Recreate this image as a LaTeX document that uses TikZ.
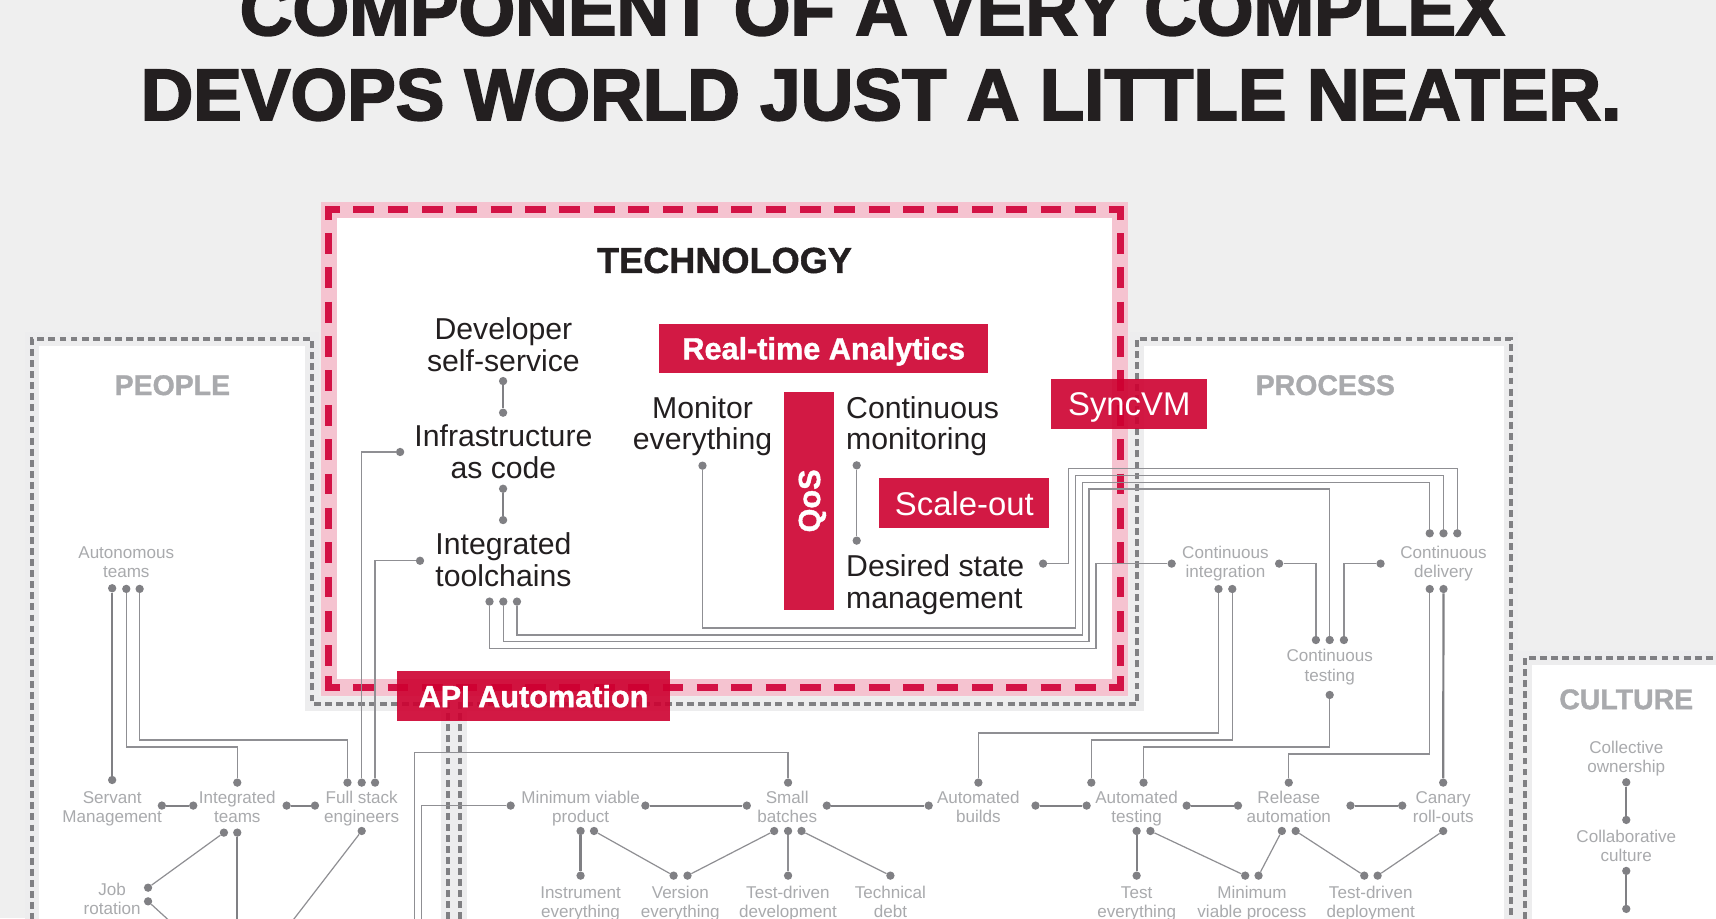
\documentclass[tikz,border=0pt]{standalone}
\usepackage{fontspec}
\setmainfont{Liberation Sans}
\newfontfamily\ttlfont[FakeBold=2.6]{Liberation Sans}
\newfontfamily\hvfont[FakeBold=1.2]{Liberation Sans}
\definecolor{bgc}{HTML}{EFEFEF}
\definecolor{halo}{HTML}{EDEDEE}
\definecolor{dashc}{HTML}{808083}
\definecolor{redc}{HTML}{D31245}
\definecolor{redover}{HTML}{CE0030}
\definecolor{pinkc}{HTML}{F5C3D0}
\definecolor{inkc}{HTML}{231F20}
\definecolor{greytxt}{HTML}{A9AAAD}
\definecolor{dotc}{HTML}{808084}
\definecolor{linec}{HTML}{8F8F93}
\tikzset{
 x=1pt,y=-1pt,
 dot/.style={circle,fill=dotc,inner sep=0pt,minimum size=7.6pt},
 lnk/.style={draw=linec,line width=1.1pt},
 thk/.style={draw=dotc,line width=2pt},
 smalltxt/.style={text=greytxt,align=center,inner sep=0pt,yshift=-1.65pt,execute at end node={\vphantom{g}},font=\fontsize{15.6}{17.6}\selectfont},
 bigtxt/.style={text=inkc,align=center,inner sep=0pt,yshift=-2.9pt,execute at end node={\vphantom{g}},font=\fontsize{27.6}{29}\selectfont},
 bigleft/.style={text=inkc,align=left,anchor=west,inner sep=0pt,yshift=-2.9pt,execute at end node={\vphantom{g}},font=\fontsize{27.6}{29}\selectfont},
 hdr/.style={text=greytxt,inner sep=0pt,font=\fontsize{26}{26}\hvfont\bfseries},
 ttl/.style={text=inkc,inner sep=0pt,anchor=base,font=\fontsize{66.6}{67}\ttlfont\bfseries},
 redbox/.style={fill=redover,fill opacity=.9,inner sep=0pt,anchor=north west},
 boxbold/.style={text=white,inner sep=0pt,text depth=0pt,font=\fontsize{28}{28}\hvfont\bfseries},
 boxreg/.style={text=white,inner sep=0pt,text depth=0pt,font=\fontsize{30}{30}\selectfont},
 haloline/.style={draw=halo,line width=12.5pt,line join=miter},
 dashline/.style={draw=dashc,line width=3.8pt,dash pattern=on 6.3pt off 3.8pt},
 redline/.style={draw=redc,line width=6pt,dash pattern=on 19pt off 12.4pt},
 redcorner/.style={draw=redc,line width=6pt,line join=miter},
}
\begin{document}
\begin{tikzpicture}
\useasboundingbox (0,0) rectangle (1568,839);
\clip (0,0) rectangle (1568,839);
\fill[bgc] (0,0) rectangle (1568,839);
% title
\node[ttl] (t1) at (797,32) {COMPONENT OF A VERY COMPLEX};
\node[ttl] (t2) at (805,109.6) {DEVOPS WORLD JUST A LITTLE NEATER.};
% regions
\fill[white] (1393.5,601) rectangle (1580,850);
\fill[white] (29.4,310) -- (285.3,310) -- (285.3,643.3) -- (409.5,643.3) -- (409.5,850) -- (29.4,850) -- cycle;
\fill[white] (420.4,850) -- (420.4,643.3) -- (1038.7,643.3) -- (1038.7,310) -- (1380.6,310) -- (1380.6,850) -- cycle;
\path[haloline] (1393.5,850) -- (1393.5,601) -- (1580,601);
\path[haloline] (409.5,850) -- (409.5,643.3) -- (285.3,643.3) -- (285.3,310) -- (29.4,310) -- (29.4,850);
\path[haloline] (420.4,850) -- (420.4,643.3) -- (1038.7,643.3) -- (1038.7,310) -- (1380.6,310) -- (1380.6,850);
\draw[dashline] (1393.5,850) -- (1393.5,601) -- (1580,601);
\draw[dashline] (409.5,850) -- (409.5,643.3) -- (285.3,643.3) -- (285.3,310) -- (29.4,310) -- (29.4,850);
\draw[dashline] (420.4,850) -- (420.4,643.3) -- (1038.7,643.3) -- (1038.7,310) -- (1380.6,310) -- (1380.6,850);
% technology panel
\fill[pinkc] (293.2,184.3) rectangle (1031,636);
\fill[white] (307.9,198.9) rectangle (1016.5,620.8);
\draw[redline,dash phase=9pt] (300.4,191.5) -- (1023.7,191.5);
\draw[redline,dash phase=9pt] (300.4,628.4) -- (1023.7,628.4);
\draw[redline,dash phase=10pt] (300.4,191.5) -- (300.4,628.4);
\draw[redline,dash phase=10pt] (1023.7,191.5) -- (1023.7,628.4);
\draw[redcorner] (300.4,201) -- (300.4,191.5) -- (310,191.5);
\draw[redcorner] (1013,191.5) -- (1023.7,191.5) -- (1023.7,201);
\draw[redcorner] (300.4,618) -- (300.4,628.4) -- (310,628.4);
\draw[redcorner] (1013,628.4) -- (1023.7,628.4) -- (1023.7,618);
% headers
\node[text=inkc,inner sep=0pt,font=\fontsize{33}{33}\hvfont\bfseries] (hTech) at (662,238) {TECHNOLOGY};
\node[hdr] (hPeople) at (157.5,352) {PEOPLE};
\node[hdr] (hProcess) at (1211,352) {PROCESS};
\node[hdr] (hCulture) at (1486,639) {CULTURE};
% dark labels
\node[bigtxt] (nDev) at (460,314.5) {Developer\\self-service};
\node[bigtxt] (nInfra) at (460,412.5) {Infrastructure\\as code};
\node[bigtxt] (nTool) at (460,511.5) {Integrated\\toolchains};
\node[bigtxt] (nMon) at (642,386.5) {Monitor\\everything};
\node[bigleft] (nCont) at (773,386.5) {Continuous\\monitoring};
\node[bigleft] (nDes) at (773,531.5) {Desired state\\management};
% grey labels
\node[smalltxt] (lAuto) at (115.4,513.5) {Autonomous\\teams};
\node[smalltxt] (lServ) at (102.5,737.4) {Servant\\Management};
\node[smalltxt] (lInt) at (216.8,737.4) {Integrated\\teams};
\node[smalltxt] (lFull) at (330.5,737.4) {Full stack\\engineers};
\node[smalltxt] (lJob) at (102.5,821) {Job\\rotation};
\node[smalltxt] (lCI) at (1119.7,513.5) {Continuous\\integration};
\node[smalltxt] (lCT) at (1215,607.8) {Continuous\\testing};
\node[smalltxt] (lCD) at (1319,513.5) {Continuous\\delivery};
\node[smalltxt] (lMVP) at (530.5,737.4) {Minimum viable\\product};
\node[smalltxt] (lBat) at (719.3,737.4) {Small\\batches};
\node[smalltxt] (lBld) at (894,737.4) {Automated\\builds};
\node[smalltxt] (lTst) at (1038.6,737.4) {Automated\\testing};
\node[smalltxt] (lRel) at (1177.6,737.4) {Release\\automation};
\node[smalltxt] (lCan) at (1318.7,737.4) {Canary\\roll-outs};
\node[smalltxt] (lIns) at (530.5,824.3) {Instrument\\everything};
\node[smalltxt] (lVer) at (621.6,824.3) {Version\\everything};
\node[smalltxt] (lTdd) at (720,824.3) {Test-driven\\development};
\node[smalltxt] (lDbt) at (813.6,824.3) {Technical\\debt};
\node[smalltxt] (lTev) at (1038.6,824.3) {Test\\everything};
\node[smalltxt] (lMvpr) at (1144,824.3) {Minimum\\viable process};
\node[smalltxt] (lTdp) at (1252.5,824.3) {Test-driven\\deployment};
\node[smalltxt] (lCol) at (1486,691.7) {Collective\\ownership};
\node[smalltxt] (lClb) at (1486,772.7) {Collaborative\\culture};
% dots
\foreach \n/\x/\y in {
 dev/459.7/348.2, infT/459.7/377.1, infB/459.7/446.6, togT/459.7/475.2,
 infL/365.6/413, togL/383.8/512.4, togA/447.3/549.7, togB/459.9/549.7, togC/472.4/549.7,
 monB/641.9/425.5, conB/782.8/425.2, desT/782.8/494, desR/953.1/515,
 autA/102.5/537.5, autB/115.4/538.1, autC/127.6/538.1,
 srvT/102.5/712.7, srvR/147.9/736.1, intL/176.6/736.1, intT/216.8/715.1, intR/261.9/736.1,
 fulL/287.8/736.1, fulA/317.5/715.1, fulB/330.5/715.1, fulC/342.7/715.1, fulD/330.5/759.3,
 intA/204.6/760.8, intB/216.8/760.8, jobA/135.3/811.1, jobB/135.3/823.6,
 ciL/1070.6/515, ciR/1168.8/515, ciA/1113.4/538.2, ciB/1126/538.2,
 ctA/1202.4/584.8, ctB/1215/584.8, ctC/1228/584.8, ctD/1215/635,
 cdA/1306.4/487.3, cdB/1319/487.3, cdC/1331.6/487.3, cdL/1261.5/515, cdD/1306.4/538.2, cdE/1319/538.2,
 mvL/466.6/736.1, mvR/589.7/736.1, mvA/530.5/759.3, mvB/542.8/759.3,
 baT/720.1/715.1, baL/682.4/736.1, baR/755.5/736.1, baA/707.4/759.3, baB/720.1/759.3, baC/732.4/759.3,
 blT/894/715.1, blL/848.6/736.1, blR/946.2/736.1,
 tsL/992.9/736.1, tsA/997.2/715.1, tsB/1044.9/715.1, tsR/1084.3/736.1, tsC/1038.6/759.3, tsD/1051.2/759.3,
 reT/1177.6/715.1, reL/1131.2/736.1, reR/1234/736.1, reA/1171.3/759.3, reB/1183.9/759.3,
 caT/1318.7/715.1, caL/1281.3/736.1, caB/1318.7/759.3,
 insT/530.5/800.1, verA/615.5/800.1, verB/628.2/800.1, tddT/720.1/800.1, dbtT/813.6/800.1,
 tevT/1038.6/800.1, mpA/1137.8/800.1, mpB/1150/800.1, tdA/1246.6/800.1, tdB/1258.8/800.1,
 clA/1486/714.8, clB/1486/749.2, clC/1486/795.8, clD/1486/830.5}
 {\node[dot] (\n) at (\x,\y) {};}
\coordinate (offIntB) at (216.8,850);
\coordinate (offFul) at (262.2,848);
\coordinate (offJob) at (162,848);
\coordinate (offMv) at (385.1,850);
\coordinate (offBa) at (379,850);
% thick links
\draw[thk] (dev) -- (infT);
\draw[thk] (infB) -- (togT);
\draw[thk] (autA) -- (srvT);
\draw[thk] (srvR) -- (intL);
\draw[thk] (intR) -- (fulL);
\draw[thk] (intB) -- (offIntB);
\draw[thk] (mvR) -- (baL);
\draw[thk] (baR) -- (blL);
\draw[thk] (blR) -- (tsL);
\draw[thk] (tsR) -- (reL);
\draw[thk] (reR) -- (caL);
\draw[thk] (mvA) -- (insT);
\draw[thk] (tsC) -- (tevT);
\draw[thk] (cdE) -- (caT);
\draw[thk] (clA) -- (clB);
\draw[thk] (clC) -- (clD);
% thin links
\draw[lnk] (conB) -- (desT);
\draw[lnk] (infL) -- (infL -| fulB) -- (fulB);
\draw[lnk] (togL) -- (togL -| fulC) -- (fulC);
\draw[lnk] (autC) -- (autC |- 0,676.1) -- (fulA |- 0,676.1) -- (fulA);
\draw[lnk] (autB) -- (autB |- 0,682.5) -- (intT |- 0,682.5) -- (intT);
\draw[lnk] (intA) -- (jobA);
\draw[lnk] (jobB) -- (offJob);
\draw[lnk] (fulD) -- (offFul);
\draw[lnk] (desR) -- (976.2,515) -- (976.2,428) -- (1331.6,428) -- (cdC);
\draw[lnk] (monB) -- (641.9,573.9) -- (982.5,573.9) -- (982.5,434.3) -- (1319,434.3) -- (cdB);
\draw[lnk] (togC) -- (472.4,580.2) -- (988.8,580.2) -- (988.8,440.7) -- (1306.4,440.7) -- (cdA);
\draw[lnk] (togB) -- (459.9,586.3) -- (995.1,586.3) -- (995.1,446.8) -- (1215,446.8) -- (ctB);
\draw[lnk] (togA) -- (447.3,592.4) -- (1001.4,592.4) -- (1001.4,515) -- (ciL);
\draw[lnk] (ciR) -- (ciR -| ctA) -- (ctA);
\draw[lnk] (cdL) -- (cdL -| ctC) -- (ctC);
\draw[lnk] (ciA) -- (ciA |- 0,669.8) -- (blT |- 0,669.8) -- (blT);
\draw[lnk] (ciB) -- (ciB |- 0,676.1) -- (tsA |- 0,676.1) -- (tsA);
\draw[lnk] (ctD) -- (ctD |- 0,682.5) -- (tsB |- 0,682.5) -- (tsB);
\draw[lnk] (cdD) -- (cdD |- 0,688.9) -- (reT |- 0,688.9) -- (reT);
\draw[lnk] (baT) -- (baT |- 0,687.4) -- (offBa |- 0,687.4) -- (offBa);
\draw[lnk] (mvL) -- (mvL -| offMv) -- (offMv);
\draw[lnk] (mvB) -- (verA);
\draw[lnk] (baA) -- (verB);
\draw[lnk] (baB) -- (tddT);
\draw[lnk] (baC) -- (dbtT);
\draw[lnk] (tsD) -- (mpA);
\draw[lnk] (reA) -- (mpB);
\draw[lnk] (reB) -- (tdA);
\draw[lnk] (caB) -- (tdB);
% red boxes
\node[redbox,minimum width=301pt,minimum height=45.2pt] (bRT) at (602,295.4) {};
\node[boxbold] (bRTt) at (bRT.center) {Real-time Analytics};
\node[redbox,minimum width=45.7pt,minimum height=198.6pt] (bQ) at (716.5,358.2) {};
\node[boxbold,rotate=90] (bQt) at (bQ.center) {QoS};
\node[redbox,minimum width=142.7pt,minimum height=45.7pt] (bSync) at (960.3,346.3) {};
\node[boxreg] (bSynct) at (bSync.center) {SyncVM};
\node[redbox,minimum width=155.3pt,minimum height=45.7pt] (bScale) at (803.3,436.8) {};
\node[boxreg] (bScalet) at (bScale.center) {Scale-out};
\node[redbox,minimum width=249.4pt,minimum height=45.7pt] (bApi) at (362.6,613) {};
\node[boxbold] (bApit) at (bApi.center) {API Automation};
\end{tikzpicture}
\end{document}
